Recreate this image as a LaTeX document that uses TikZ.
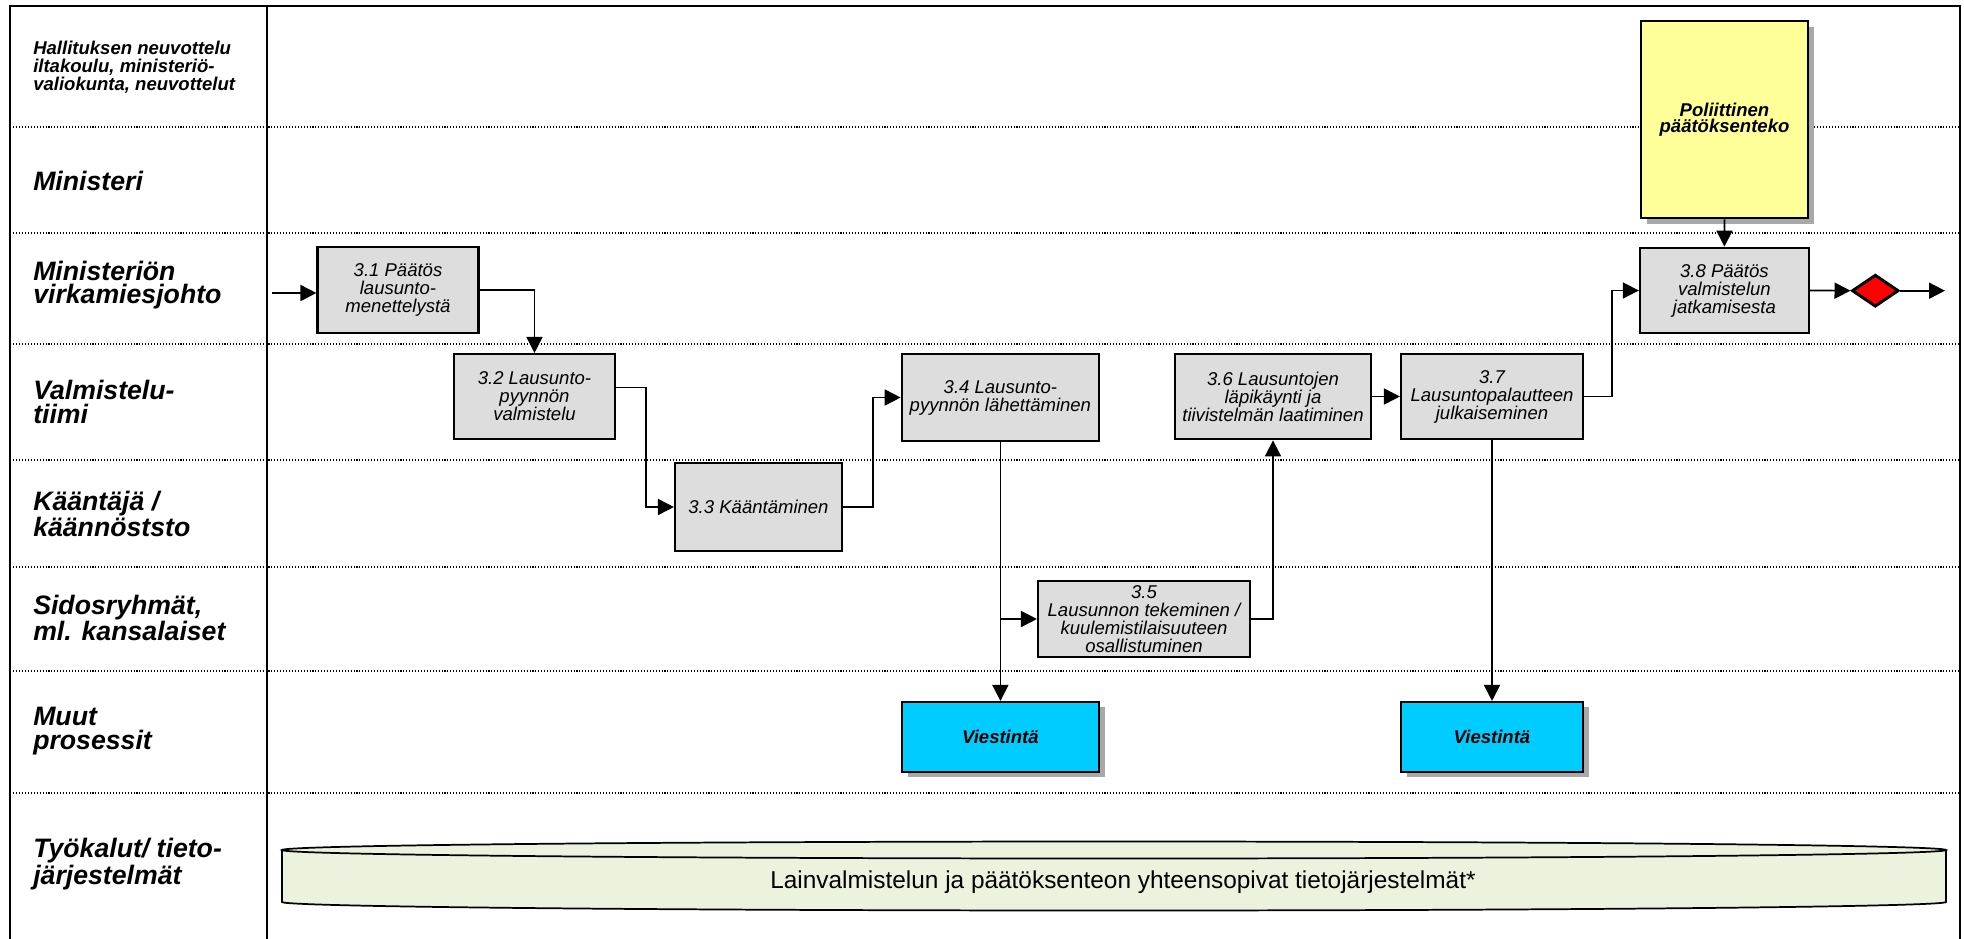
\documentclass[tikz,border=0pt]{standalone}
\usepackage{fontspec}
\setmainfont{Liberation Sans}
\usetikzlibrary{arrows.meta,calc,shapes.geometric,shadows}

\definecolor{stepgray}{HTML}{DDDDDD}
\definecolor{politicyellow}{HTML}{FFFF99}
\definecolor{commcyan}{HTML}{00CCFF}
\definecolor{toolgreen}{HTML}{EBF2DD}
\definecolor{shadowgray}{HTML}{A8A8A8}

\begin{document}
\begin{tikzpicture}[x=0.75pt,y=0.75pt,
  frameline/.style={line width=1.5pt,black},
  divline/.style={line width=0.8pt,black},
  laneline/.style={line width=0.8pt,black,dash pattern=on 0.8pt off 1.4pt},
  lanelabel/.style={anchor=west,align=left,inner sep=0pt,
    font=\bfseries\itshape\fontsize{20}{17.8}\selectfont},
  smalllabel/.style={anchor=west,align=left,inner sep=0pt,
    font=\bfseries\itshape\fontsize{13.9}{13.7}\selectfont},
  stepbox/.style={draw=black,line width=1.6pt,fill=stepgray,align=center,
    inner sep=1pt,font=\itshape\fontsize{13.9}{13.5}\selectfont},
  shadowed/.style={drop shadow={shadow xshift=4.5pt,shadow yshift=-4pt,
    fill=shadowgray,opacity=1}},
  polbox/.style={stepbox,fill=politicyellow,shadowed,
    font=\bfseries\itshape\fontsize{13.9}{12}\selectfont},
  commbox/.style={stepbox,fill=commcyan,shadowed,
    font=\bfseries\itshape\fontsize{13.9}{13.5}\selectfont},
  gate/.style={diamond,draw=black,line width=2.2pt,fill=red,inner sep=0pt,
    minimum width=35pt,minimum height=24pt},
  arr/.style={line width=1.3pt,-{Triangle[length=12pt,width=12pt]}}
]
\useasboundingbox (0,0) rectangle (1964,-939);

% frame, label column and swimlane separators
\draw[frameline] (10.3,-939) -- (10.3,-5.7) -- (1960,-5.7) -- (1960,-939);
\draw[divline] (267,-5.7) -- (267,-939);
\foreach \ly in {127,233,344,460,567,671,793}
  \draw[laneline] (10.3,-\ly) -- (1960,-\ly);

% lane titles
\node[smalllabel] (lab1) at (33,-67) {Hallituksen neuvottelu\\iltakoulu, ministeriö-\\valiokunta, neuvottelut};
\node[lanelabel] (lab2) at (33,-181) {Ministeri};
\node[lanelabel] (lab3) at (33,-285) {Ministeriön\\virkamiesjohto};
\node[lanelabel] (lab4) at (33,-402) {Valmistelu-\\tiimi};
\node[lanelabel] (lab5) at (33,-514) {Kääntäjä /\\käännöststo};
\node[lanelabel] (lab6) at (33,-618) {Sidosryhmät,\\ml. kansalaiset};
\node[lanelabel] (lab7) at (33,-731) {Muut\\prosessit};
\node[lanelabel] (lab8) at (33,-864) {Työkalut/ tieto-\\järjestelmät};

% process steps
\node[stepbox,minimum width=120.75pt,minimum height=64.5pt] (b31) at (398,-290)
  {3.1 Päätös\\lausunto-\\menettelystä};
\node[stepbox,minimum width=120.75pt,minimum height=63.75pt] (b32) at (534.5,-396.5)
  {3.2 Lausunto-\\pyynnön\\valmistelu};
\node[stepbox,minimum width=125.25pt,minimum height=66pt] (b33) at (758.5,-507)
  {3.3 Kääntäminen};
\node[stepbox,minimum width=148pt,minimum height=65.7pt] (b34) at (1000.4,-397.5)
  {3.4 Lausunto-\\pyynnön lähettäminen};
\node[stepbox,minimum width=159pt,minimum height=56.8pt] (b35) at (1144,-619)
  {3.5\\Lausunnon tekeminen /\\kuulemistilaisuuteen\\osallistuminen};
\node[stepbox,minimum width=147pt,minimum height=64.2pt] (b36) at (1273,-396.5)
  {3.6 Lausuntojen\\läpikäynti ja\\tiivistelmän laatiminen};
\node[stepbox,minimum width=136.5pt,minimum height=63.75pt] (b37) at (1492,-396.5)
  {3.7\\Lausuntopalautteen\\julkaiseminen};
\node[stepbox,minimum width=126.75pt,minimum height=64.2pt] (b38) at (1724.4,-290.5)
  {3.8 Päätös\\valmistelun\\jatkamisesta};

% political decision, communication and end gate
\node[polbox,minimum width=125.25pt,minimum height=147.75pt] (pol) at (1724.5,-119.7)
  {Poliittinen\\päätöksenteko};
\node[commbox,minimum width=147.75pt,minimum height=52.5pt] (v1) at (1000.4,-737) {Viestintä};
\node[commbox,minimum width=136.5pt,minimum height=52.5pt] (v2) at (1492,-737) {Viestintä};
\node[gate] (dia) at (1875.3,-290.7) {};

% information systems cylinder
\fill[toolgreen] (282,-850) -- (282,-902)
  arc[start angle=180,end angle=360,x radius=832,y radius=8.5]
  -- (1946,-850) arc[start angle=0,end angle=180,x radius=832,y radius=8.5] -- cycle;
\draw[line width=1.3pt] (282,-850) -- (282,-902)
  arc[start angle=180,end angle=360,x radius=832,y radius=8.5] -- (1946,-850);
\draw[line width=1.3pt] (1114,-850) ellipse[x radius=832,y radius=8.5];
\node[inner sep=0pt,font=\fontsize{18.3}{18}\selectfont] (tools) at (1123,-882)
  {Lainvalmistelun ja päätöksenteon yhteensopivat tietojärjestelmät*};

% connectors
\coordinate (start) at (272,-293);
\coordinate (finish) at (1945,-290.7);
\draw[arr] (start) -- (start -| b31.west);
\draw[arr] (b31.east) -| (b32.north);
\draw[arr] ($(b32.east)+(0,9)$) -- ++(30,0) |- (b33.west);
\draw[arr] (b33.east) -- ++(30,0) |- (b34.west);
\draw[arr] (b34.south) -- (v1.north);
\draw[arr] (b34.south |- b35.west) -- (b35.west);
\draw[arr] (b35.east) -| (b36.south);
\draw[arr] (b36.east) -- (b37.west);
\draw[arr] (b37.south) -- (v2.north);
\draw[arr] (b37.east) -- ++(28,0) |- (b38.west);
\draw[arr] (pol.south) -- (b38.north);
\draw[arr] (b38.east) -- (dia.west);
\draw[arr] (dia.east) -- (finish);
\end{tikzpicture}
\end{document}
